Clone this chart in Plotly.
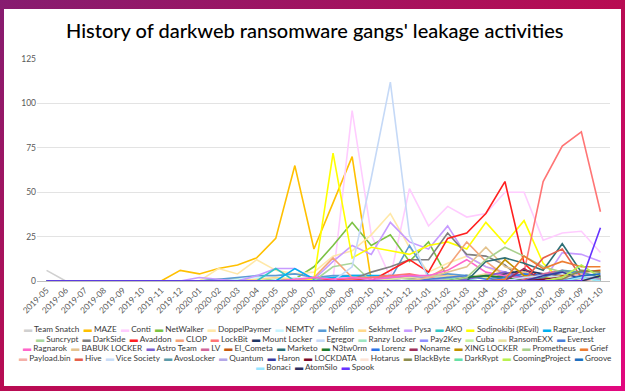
import base64
import plotly.graph_objects as go

# ---------------- data ----------------
months = ["2019-05", "2019-06", "2019-07", "2019-08", "2019-09", "2019-10", "2019-11", "2019-12",
          "2020-01", "2020-02", "2020-03", "2020-04", "2020-05", "2020-06", "2020-07", "2020-08",
          "2020-09", "2020-10", "2020-11", "2020-12", "2021-01", "2021-02", "2021-03", "2021-04",
          "2021-05", "2021-06", "2021-07", "2021-08", "2021-09", "2021-10"]

names = ["Team Snatch", "MAZE", "Conti", "NetWalker", "DoppelPaymer", "NEMTY", "Nefilim", "Sekhmet",
         "Pysa", "AKO", "Sodinokibi (REvil)", "Ragnar_Locker",
         "Suncrypt", "DarkSide", "Avaddon", "CLOP", "LockBit", "Mount Locker", "Egregor", "Ranzy Locker",
         "Pay2Key", "Cuba", "RansomEXX", "Everest",
         "Ragnarok", "BABUK LOCKER", "Astro Team", "LV", "El_Cometa", "Marketo", "N3tw0rm", "Lorenz",
         "Noname", "XING LOCKER", "Prometheus", "Grief",
         "Payload.bin", "Hive", "Vice Society", "AvosLocker", "Quantum", "Haron", "LOCKDATA", "Hotarus",
         "BlackByte", "DarkRypt", "CoomingProject", "Groove",
         "Bonaci", "AtomSilo", "Spook"]

#                 05 06 07 08 09 10 11 12 01 02 03 04 05 06 07 08 09 10  11  12 01 02 03 04 05 06 07 08 09 10
team_snatch    = [6, 0, 0, 0, 0, 0, 0, 0, 0, 0, 0, 0, 0, 0, 0, 0, 0, 0,  0,  0, 0, 0, 0, 0, 0, 0, 0, 0, 0, 0]
maze           = [0, 0, 0, 0, 0, 0, 0, 6, 4, 7, 9, 13, 24, 65, 18, 44, 70, 0, 0, 0, 0, 0, 0, 0, 0, 0, 0, 0, 0, 0]
conti          = [0, 0, 0, 0, 0, 0, 0, 0, 0, 0, 0, 0, 0, 0, 0, 1, 96, 26, 2, 52, 31, 42, 36, 38, 50, 50, 23, 27, 28, 16]
netwalker      = [0, 0, 0, 0, 0, 0, 0, 0, 0, 1, 1, 0, 1, 1, 8, 20, 33, 20, 26, 11, 22, 2, 0, 0, 0, 0, 0, 0, 0, 0]
doppelpaymer   = [0, 0, 0, 0, 0, 0, 0, 0, 0, 7, 4, 12, 6, 4, 5, 14, 17, 26, 38, 19, 5, 10, 14, 8, 3, 2, 0, 0, 0, 0]
nemty          = [0, 0, 0, 0, 0, 0, 0, 0, 0, 0, 1, 2, 1, 2, 1, 0, 1, 0, 0, 0, 0, 0, 0, 0, 0, 0, 0, 0, 0, 0]
nefilim        = [0, 0, 0, 0, 0, 0, 0, 0, 0, 1, 2, 3, 3, 4, 2, 3, 3, 3, 1, 20, 3, 4, 3, 2, 5, 2, 1, 1, 1, 0]
sekhmet        = [0, 0, 0, 0, 0, 0, 0, 0, 0, 0, 0, 1, 2, 1, 0, 0, 0, 0, 0, 0, 0, 0, 0, 0, 0, 0, 0, 0, 0, 0]
pysa           = [0, 0, 0, 0, 0, 0, 0, 0, 2, 1, 0, 3, 7, 7, 1, 11, 20, 15, 33, 22, 18, 31, 14, 8, 5, 3, 0, 16, 15, 11]
ako            = [0, 0, 0, 0, 0, 0, 0, 0, 0, 0, 0, 0, 7, 0, 2, 1, 1, 0, 0, 0, 0, 0, 0, 0, 0, 0, 0, 0, 0, 0]
sodinokibi     = [0, 0, 0, 0, 0, 0, 0, 0, 0, 0, 0, 0, 0, 0, 1, 72, 13, 19, 17, 15, 20, 22, 18, 33, 21, 34, 10, 0, 2, 0]
ragnar_locker  = [0, 0, 0, 0, 0, 0, 0, 0, 0, 0, 0, 0, 0, 7, 1, 2, 3, 3, 3, 2, 2, 2, 1, 2, 1, 1, 2, 2, 1, 1]
suncrypt       = [0, 0, 0, 0, 0, 0, 0, 0, 0, 0, 0, 0, 0, 0, 0, 8, 10, 0, 2, 1, 1, 1, 0, 0, 0, 0, 0, 0, 0, 0]
darkside       = [0, 0, 0, 0, 0, 0, 0, 0, 0, 0, 0, 0, 0, 0, 0, 0, 1, 5, 8, 12, 12, 27, 15, 14, 9, 0, 0, 0, 0, 0]
avaddon        = [0, 0, 0, 0, 0, 0, 0, 0, 0, 0, 0, 0, 0, 0, 0, 1, 1, 0, 6, 12, 5, 24, 27, 38, 56, 10, 0, 0, 0, 0]
clop           = [0, 0, 0, 0, 0, 0, 0, 0, 0, 0, 0, 0, 0, 0, 2, 13, 2, 2, 3, 2, 2, 8, 22, 11, 3, 2, 1, 0, 0, 0]
lockbit        = [0, 0, 0, 0, 0, 0, 0, 0, 0, 0, 0, 0, 0, 0, 0, 0, 1, 2, 3, 4, 2, 3, 2, 3, 4, 5, 56, 76, 84, 39]
mount_locker   = [0, 0, 0, 0, 0, 0, 0, 0, 0, 0, 0, 0, 0, 0, 0, 0, 0, 0, 1, 2, 1, 2, 3, 2, 4, 6, 4, 3, 2, 1]
egregor        = [0, 0, 0, 0, 0, 0, 0, 0, 0, 0, 0, 0, 0, 0, 0, 0, 8, 58, 112, 26, 1, 0, 0, 0, 0, 0, 0, 0, 0, 0]
ranzy_locker   = [0, 0, 0, 0, 0, 0, 0, 0, 0, 0, 0, 0, 0, 0, 0, 0, 0, 0, 1, 2, 3, 2, 1, 2, 1, 0, 0, 0, 0, 0]
pay2key        = [0, 0, 0, 0, 0, 0, 0, 0, 0, 0, 0, 0, 0, 0, 0, 0, 0, 0, 2, 3, 1, 0, 0, 0, 0, 0, 0, 0, 0, 0]
cuba           = [0, 0, 0, 0, 0, 0, 0, 0, 0, 0, 0, 0, 0, 0, 0, 0, 0, 0, 0, 0, 1, 2, 3, 2, 1, 2, 1, 3, 2, 1]
ransomexx      = [0, 0, 0, 0, 0, 0, 0, 0, 0, 0, 0, 0, 0, 0, 0, 0, 0, 0, 1, 2, 1, 3, 2, 4, 2, 3, 2, 1, 2, 1]
everest        = [0, 0, 0, 0, 0, 0, 0, 0, 0, 0, 0, 0, 0, 0, 0, 0, 0, 0, 0, 0, 1, 2, 3, 1, 3, 2, 1, 2, 2, 1]
ragnarok       = [0, 0, 0, 0, 0, 0, 0, 0, 0, 0, 0, 0, 0, 1, 2, 1, 2, 1, 2, 3, 3, 6, 12, 5, 3, 2, 1, 0, 0, 0]
babuk_locker   = [0, 0, 0, 0, 0, 0, 0, 0, 0, 0, 0, 0, 0, 0, 0, 0, 0, 0, 0, 0, 2, 5, 8, 19, 8, 5, 2, 3, 2, 0]
astro_team     = [0, 0, 0, 0, 0, 0, 0, 0, 0, 0, 0, 0, 0, 0, 0, 0, 0, 0, 0, 0, 0, 0, 1, 3, 5, 2, 0, 0, 0, 0]
lv             = [0, 0, 0, 0, 0, 0, 0, 0, 0, 0, 0, 0, 0, 0, 0, 0, 0, 0, 0, 0, 0, 0, 0, 0, 0, 1, 4, 6, 3, 2]
el_cometa      = [0, 0, 0, 0, 0, 0, 0, 0, 0, 0, 0, 0, 0, 0, 0, 0, 0, 0, 0, 0, 0, 0, 0, 0, 0, 0, 0, 3, 5, 6]
marketo        = [0, 0, 0, 0, 0, 0, 0, 0, 0, 0, 0, 0, 0, 0, 0, 0, 0, 0, 0, 0, 0, 0, 0, 11, 13, 10, 6, 21, 5, 1]
n3tw0rm        = [0, 0, 0, 0, 0, 0, 0, 0, 0, 0, 0, 0, 0, 0, 0, 0, 0, 0, 0, 0, 0, 0, 2, 3, 2, 0, 0, 0, 0, 0]
lorenz         = [0, 0, 0, 0, 0, 0, 0, 0, 0, 0, 0, 0, 0, 0, 0, 0, 0, 0, 0, 0, 0, 0, 0, 0, 2, 4, 3, 5, 4, 2]
noname         = [0, 0, 0, 0, 0, 0, 0, 0, 0, 0, 0, 0, 0, 0, 0, 0, 0, 0, 0, 0, 0, 0, 0, 0, 0, 7, 0, 0, 0, 0]
xing_locker    = [0, 0, 0, 0, 0, 0, 0, 0, 0, 0, 0, 0, 0, 0, 0, 0, 0, 0, 0, 0, 0, 0, 0, 0, 12, 3, 2, 0, 0, 0]
prometheus     = [0, 0, 0, 0, 0, 0, 0, 0, 0, 0, 0, 0, 0, 0, 0, 0, 0, 0, 0, 0, 0, 0, 2, 12, 19, 14, 8, 5, 3, 1]
grief          = [0, 0, 0, 0, 0, 0, 0, 0, 0, 0, 0, 0, 0, 0, 0, 0, 0, 0, 0, 0, 0, 0, 0, 0, 1, 14, 7, 11, 8, 8]
payload_bin    = [0, 0, 0, 0, 0, 0, 0, 0, 0, 0, 0, 0, 0, 0, 0, 0, 0, 0, 0, 0, 0, 0, 0, 0, 0, 0, 0, 2, 4, 3]
hive           = [0, 0, 0, 0, 0, 0, 0, 0, 0, 0, 0, 0, 0, 0, 0, 0, 0, 0, 0, 0, 0, 0, 0, 0, 0, 0, 13, 18, 2, 1]
vice_society   = [0, 0, 0, 0, 0, 0, 0, 0, 0, 0, 0, 0, 0, 0, 0, 0, 0, 0, 0, 0, 0, 0, 0, 0, 0, 2, 3, 2, 2, 3]
avoslocker     = [0, 0, 0, 0, 0, 0, 0, 0, 0, 0, 0, 0, 0, 0, 0, 0, 0, 0, 0, 0, 0, 0, 0, 0, 0, 0, 2, 6, 5, 2]
quantum        = [0, 0, 0, 0, 0, 0, 0, 0, 0, 0, 0, 0, 0, 0, 0, 0, 0, 0, 0, 0, 0, 0, 0, 0, 0, 0, 0, 1, 2, 1]
haron          = [0, 0, 0, 0, 0, 0, 0, 0, 0, 0, 0, 0, 0, 0, 0, 0, 0, 0, 0, 0, 0, 0, 0, 0, 0, 0, 3, 5, 1, 0]
lockdata       = [0, 0, 0, 0, 0, 0, 0, 0, 0, 0, 0, 0, 0, 0, 0, 0, 0, 0, 0, 0, 0, 0, 0, 0, 0, 0, 1, 2, 0, 0]
hotarus        = [0, 0, 0, 0, 0, 0, 0, 0, 0, 0, 0, 0, 0, 0, 0, 0, 0, 0, 0, 0, 0, 0, 0, 0, 0, 0, 0, 2, 1, 0]
blackbyte      = [0, 0, 0, 0, 0, 0, 0, 0, 0, 0, 0, 0, 0, 0, 0, 0, 0, 0, 0, 0, 0, 0, 0, 0, 0, 0, 0, 1, 6, 5]
darkrypt       = [0, 0, 0, 0, 0, 0, 0, 0, 0, 0, 0, 0, 0, 0, 0, 0, 0, 0, 0, 0, 0, 0, 0, 0, 0, 0, 0, 0, 2, 0]
coomingproject = [0, 0, 0, 0, 0, 0, 0, 0, 0, 0, 0, 0, 0, 0, 0, 0, 0, 0, 0, 0, 0, 0, 0, 0, 0, 0, 0, 2, 9, 2]
groove         = [0, 0, 0, 0, 0, 0, 0, 0, 0, 0, 0, 0, 0, 0, 0, 0, 0, 0, 0, 0, 0, 0, 0, 0, 0, 0, 0, 0, 3, 4]
bonaci         = [0, 0, 0, 0, 0, 0, 0, 0, 0, 0, 0, 0, 0, 0, 0, 0, 0, 0, 0, 0, 0, 0, 0, 0, 0, 0, 0, 0, 2, 0]
atomsilo       = [0, 0, 0, 0, 0, 0, 0, 0, 0, 0, 0, 0, 0, 0, 0, 0, 0, 0, 0, 0, 0, 0, 0, 0, 0, 0, 0, 0, 0, 3]
spook          = [0, 0, 0, 0, 0, 0, 0, 0, 0, 0, 0, 0, 0, 0, 0, 0, 0, 0, 0, 0, 0, 0, 0, 0, 0, 0, 0, 0, 0, 30]

y_ticks = [0, 25, 50, 75, 100, 125]

series = [team_snatch, maze, conti, netwalker, doppelpaymer, nemty, nefilim, sekhmet,
          pysa, ako, sodinokibi, ragnar_locker,
          suncrypt, darkside, avaddon, clop, lockbit, mount_locker, egregor, ranzy_locker,
          pay2key, cuba, ransomexx, everest,
          ragnarok, babuk_locker, astro_team, lv, el_cometa, marketo, n3tw0rm, lorenz,
          noname, xing_locker, prometheus, grief,
          payload_bin, hive, vice_society, avoslocker, quantum, haron, lockdata, hotarus,
          blackbyte, darkrypt, coomingproject, groove,
          bonaci, atomsilo, spook]

# ---------------- styles ----------------
colors = ["#D0D0D0", "#FFC000", "#FFCCFF", "#7CC244", "#FFE8A8", "#C8F4FF", "#5B9BD5", "#FFD98C",
          "#C79BFF", "#33C6C6", "#FFFF00", "#00B0F0",
          "#A9D69A", "#808080", "#FF2020", "#F4A47A", "#FF7575", "#1F3864", "#C5D9F7", "#9EE6C0",
          "#8E8EFF", "#C8F0A0", "#E8E0A0", "#4A7FD8",
          "#FF66CC", "#E3C38F", "#7E60D0", "#D0679A", "#C55A11", "#2E6F75", "#1E7B30", "#2E75E6",
          "#A0305A", "#BF8F00", "#A9D08E", "#ED7D31",
          "#F4B0A8", "#E5604C", "#C9DDF7", "#5B9BAA", "#B4A7E6", "#3A3AA0", "#7B0A2A", "#FCE4D6",
          "#8C8C50", "#66E0A8", "#B6F050", "#2070C0",
          "#99E6FF", "#2F2F60", "#6633FF"]

W, H = 625, 391
ML, MR, MT, MB = 37, 15, 59, 110
PW, PH = W - ML - MR, H - MT - MB
FONT = "Lato"


def fx(px):
    return (px - ML) / PW


def fy(py):
    return (H - MB - py) / PH


fig = go.Figure()
for nm, vals, col in zip(names, series, colors):
    fig.add_trace(go.Scatter(x=months, y=vals, mode="lines", name=nm,
                             line=dict(color=col, width=1.6), showlegend=False,
                             hovertemplate="%{x}: %{y}<extra>" + nm + "</extra>"))

# background card with gradient border
svg = ("<svg xmlns='http://www.w3.org/2000/svg' width='625' height='391' viewBox='0 0 625 391' "
       "preserveAspectRatio='none'>"
       "<defs><linearGradient id='g' x1='0' y1='0' x2='1' y2='1'>"
       "<stop offset='0' stop-color='#861C70'/><stop offset='0.5' stop-color='#B80C52'/>"
       "<stop offset='1' stop-color='#E2087F'/></linearGradient></defs>"
       "<rect width='625' height='391' fill='url(#g)'/>"
       "<rect x='4' y='9' width='617' height='377' fill='#FFFFFF'/></svg>")
src = "data:image/svg+xml;base64," + base64.b64encode(svg.encode()).decode()

# legend rows built as text
rows = [names[0:12], names[12:24], names[24:36], names[36:48], names[48:51]]
row_y = [329, 338.5, 348, 357.5, 367]
annotations = [dict(text="History of darkweb ransomware gangs' leakage activities",
                    x=fx(314), y=fy(30), xref="paper", yref="paper", showarrow=False,
                    xanchor="center", yanchor="middle",
                    font=dict(family=FONT, size=20, color="#000000", weight=500))]
idx = 0
for r, ry in zip(rows, row_y):
    parts = []
    for nm in r:
        parts.append("<span style='color:%s'>\u25AC</span>\u00a0%s" % (colors[idx], nm))
        idx += 1
    annotations.append(dict(text="\u00a0\u00a0".join(parts), x=fx(315), y=fy(ry),
                            xref="paper", yref="paper", showarrow=False,
                            xanchor="center", yanchor="middle",
                            font=dict(family=FONT, size=8.2, color="#3A3A3A")))

fig.update_layout(
    width=W, height=H,
    margin=dict(l=ML, r=MR, t=MT, b=MB),
    paper_bgcolor="#FFFFFF", plot_bgcolor="rgba(0,0,0,0)",
    showlegend=False,
    images=[dict(source=src, xref="paper", yref="paper", x=fx(0), y=fy(0),
                 sizex=W / PW, sizey=H / PH, xanchor="left", yanchor="top",
                 sizing="stretch", layer="below")],
    annotations=annotations,
    xaxis=dict(type="category", range=[-0.5, len(months) - 0.5], tickangle=-45,
               tickfont=dict(family=FONT, size=8.5, color="#595959"),
               showgrid=False, showline=True, linecolor="#BFBFBF", linewidth=1,
               ticks="", zeroline=False),
    yaxis=dict(range=[0, 125], tickvals=y_ticks, showgrid=True, gridcolor="#E3E3E3",
               gridwidth=1, zeroline=False, showline=False, ticks="",
               tickfont=dict(family=FONT, size=8.5, color="#595959")),
)

fig.write_html("out.html", config={"displayModeBar": False},
               post_script="document.body.style.margin='0px';")
